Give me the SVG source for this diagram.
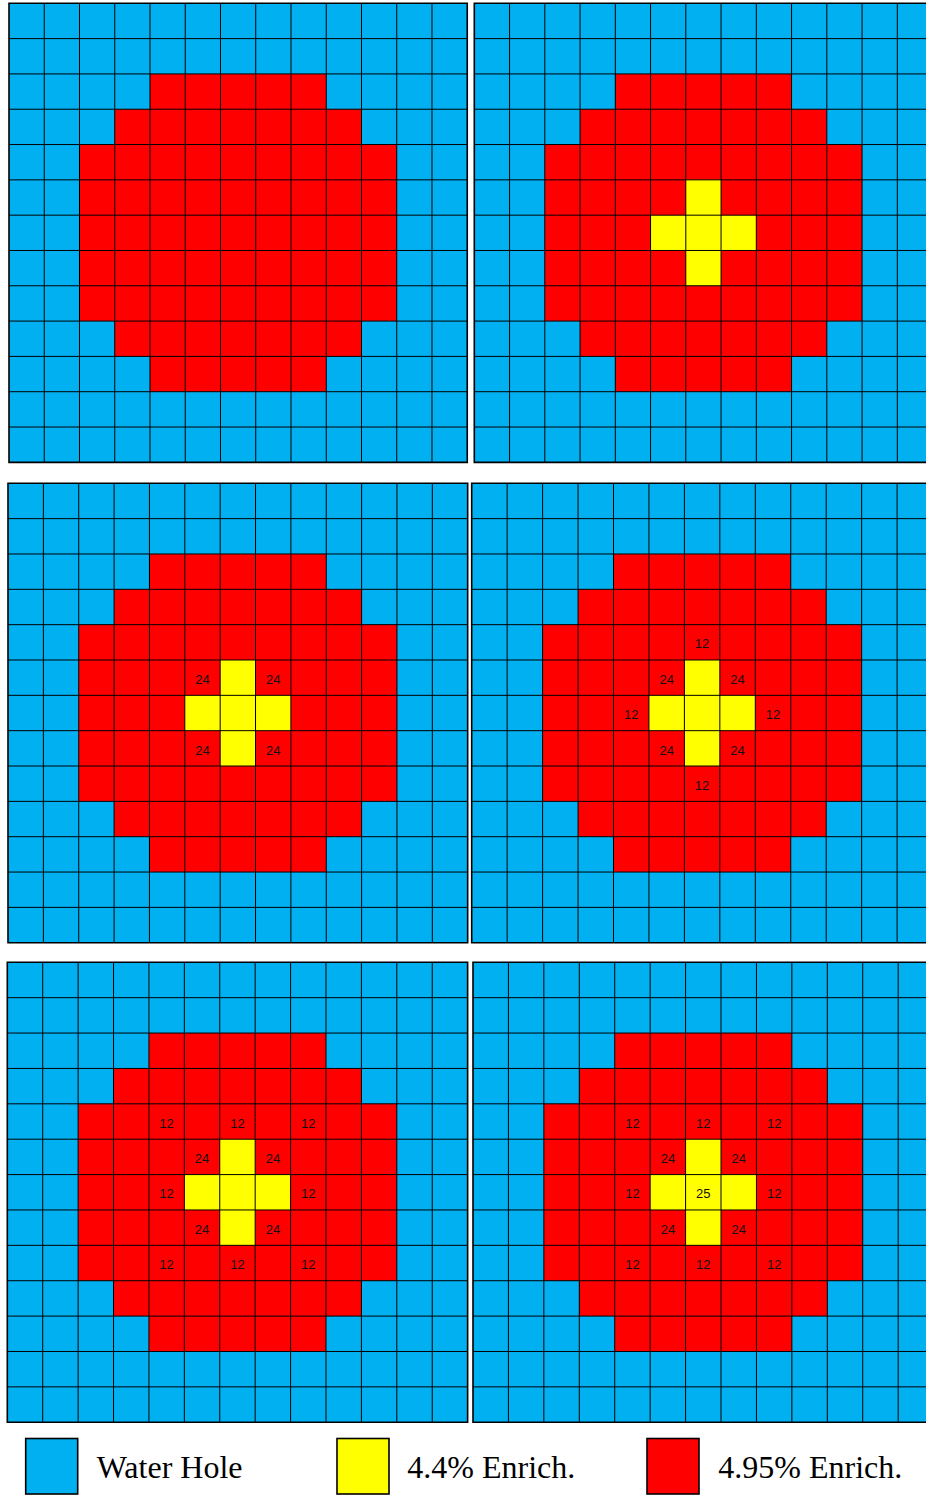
<svg xmlns="http://www.w3.org/2000/svg" xmlns:xlink="http://www.w3.org/1999/xlink" width="926" height="1496" viewBox="0 0 926 1496">
<style>
.w{fill:#00B0F0}
.r{fill:#FF0000}
.y{fill:#FFFF00}
.gl{fill:none;stroke:#000;stroke-width:1;vector-effect:non-scaling-stroke}
.gb{fill:none;stroke:#000;stroke-width:1.6;vector-effect:non-scaling-stroke}
.lb{font-family:"Liberation Sans",Arial,sans-serif;font-size:13px;fill:#111;text-anchor:middle}
.lg{font-family:"Liberation Serif","Times New Roman",serif;font-size:32px;fill:#000}
.box{stroke:#000;stroke-width:1.6}
</style>
<defs>
  <g id="base">
    <rect class="w" x="0" y="0" width="13" height="13"/>
    <polygon class="r" points="4,2 9,2 9,3 10,3 10,4 11,4 11,9 10,9 10,10 9,10 9,11 4,11 4,10 3,10 3,9 2,9 2,4 3,4 3,3 4,3"/>
  </g>
  <polygon id="cross" class="y" points="6,5 7,5 7,6 8,6 8,7 7,7 7,8 6,8 6,7 5,7 5,6 6,6"/>
  <g id="grid">
    <path class="gl" vector-effect="non-scaling-stroke" d="M0,1H13M0,2H13M0,3H13M0,4H13M0,5H13M0,6H13M0,7H13M0,8H13M0,9H13M0,10H13M0,11H13M0,12H13M1,0V13M2,0V13M3,0V13M4,0V13M5,0V13M6,0V13M7,0V13M8,0V13M9,0V13M10,0V13M11,0V13M12,0V13"/>
    <rect class="gb" vector-effect="non-scaling-stroke" x="0" y="0" width="13" height="13"/>
  </g>
</defs>

<g id="panel1" transform="translate(9,3.3)">
  <g transform="scale(35.25,35.31)"><use href="#base"/><use href="#grid"/></g>
</g>

<g id="panel2" transform="translate(474.3,3.3)">
  <g transform="scale(35.25,35.31)"><use href="#base"/><use href="#cross"/><use href="#grid"/></g>
</g>

<g id="panel3" transform="translate(8,483.3)">
  <g transform="scale(35.36,35.34)"><use href="#base"/><use href="#cross"/><use href="#grid"/></g>
  <g class="lb">
    <text x="194.5" y="200.6">24</text><text x="265.2" y="200.6">24</text>
    <text x="194.5" y="271.3">24</text><text x="265.2" y="271.3">24</text>
  </g>
</g>

<g id="panel4" transform="translate(471.7,483.3)">
  <g transform="scale(35.45,35.34)"><use href="#base"/><use href="#cross"/><use href="#grid"/></g>
  <g class="lb">
    <text x="230.4" y="165.2">12</text>
    <text x="195" y="200.6">24</text><text x="265.9" y="200.6">24</text>
    <text x="159.5" y="235.9">12</text><text x="301.3" y="235.9">12</text>
    <text x="195" y="271.3">24</text><text x="265.9" y="271.3">24</text>
    <text x="230.4" y="306.6">12</text>
  </g>
</g>

<g id="panel5" transform="translate(7.3,962.3)">
  <g transform="scale(35.41,35.38)"><use href="#base"/><use href="#cross"/><use href="#grid"/></g>
  <g class="lb">
    <text x="159.3" y="165.4">12</text><text x="230.2" y="165.4">12</text><text x="301" y="165.4">12</text>
    <text x="194.8" y="200.8">24</text><text x="265.6" y="200.8">24</text>
    <text x="159.3" y="236.2">12</text><text x="301" y="236.2">12</text>
    <text x="194.8" y="271.6">24</text><text x="265.6" y="271.6">24</text>
    <text x="159.3" y="306.9">12</text><text x="230.2" y="306.9">12</text><text x="301" y="306.9">12</text>
  </g>
</g>

<g id="panel6" transform="translate(473,962.3)">
  <g transform="scale(35.43,35.38)"><use href="#base"/><use href="#cross"/><use href="#grid"/></g>
  <g class="lb">
    <text x="159.4" y="165.4">12</text><text x="230.3" y="165.4">12</text><text x="301.2" y="165.4">12</text>
    <text x="194.9" y="200.8">24</text><text x="265.7" y="200.8">24</text>
    <text x="159.4" y="236.2">12</text><text x="230.3" y="236.2">25</text><text x="301.2" y="236.2">12</text>
    <text x="194.9" y="271.6">24</text><text x="265.7" y="271.6">24</text>
    <text x="159.4" y="306.9">12</text><text x="230.3" y="306.9">12</text><text x="301.2" y="306.9">12</text>
  </g>
</g>

<g id="legend">
  <g id="legend-water">
    <rect class="w box" x="25.7" y="1438.5" width="52" height="55.5"/>
    <text class="lg" x="96.7" y="1477.5">Water Hole</text>
  </g>
  <g id="legend-44">
    <rect class="y box" x="337" y="1438.5" width="52" height="55.5"/>
    <text class="lg" x="407.3" y="1477.5">4.4% Enrich.</text>
  </g>
  <g id="legend-495">
    <rect class="r box" x="647" y="1438.5" width="52" height="55.5"/>
    <text class="lg" x="718.3" y="1477.5">4.95% Enrich.</text>
  </g>
</g>
</svg>
